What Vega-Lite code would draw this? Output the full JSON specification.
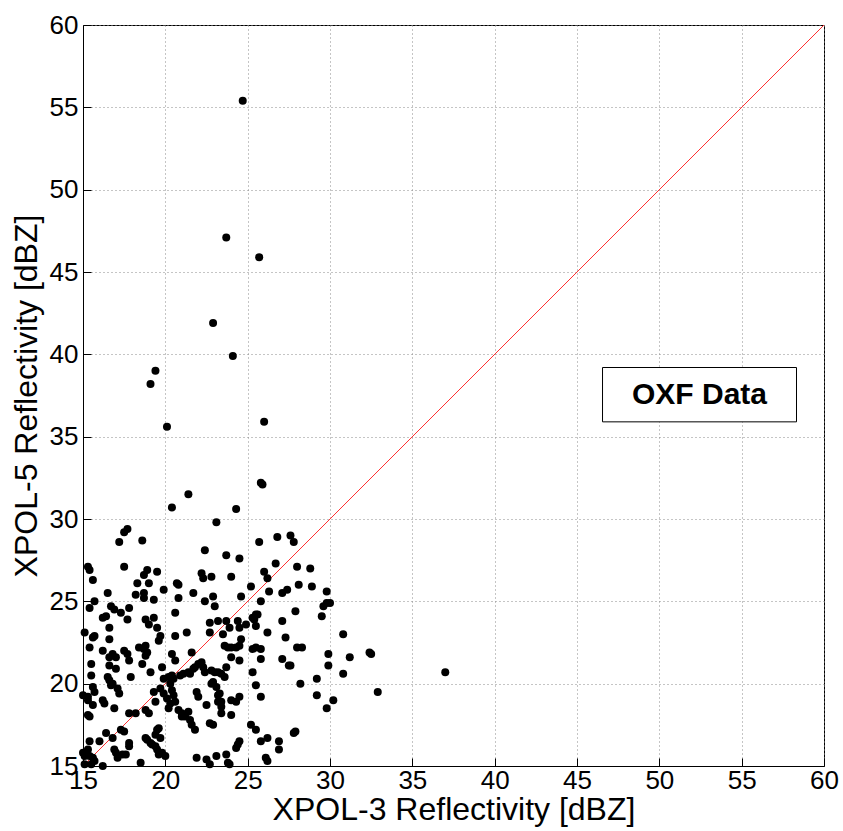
{
  "$schema": "https://vega.github.io/schema/vega-lite/v6.json",
  "width": 741,
  "height": 741,
  "autosize": {"type": "none"},
  "padding": {"left": 83, "top": 25, "right": 19, "bottom": 65},
  "background": "white",
  "config": {
    "view": {"stroke": "black", "strokeWidth": 1},
    "axis": {
      "domainColor": "black",
      "labelFont": "Liberation Sans",
      "labelFontSize": 26,
      "labelColor": "black",
      "labelOverlap": false,
      "labelFlush": false,
      "labelBound": false,
      "titleFont": "Liberation Sans",
      "titleFontSize": 32,
      "titleFontWeight": "normal",
      "titleColor": "black",
      "gridColor": "#8a8a8a",
      "gridDash": [1, 3],
      "gridOpacity": 1,
      "tickColor": "black",
      "tickSize": -8
    }
  },
  "datasets": {
    "pts": [
      {"x":24.7,"y":55.4},{"x":23.7,"y":47.1},{"x":25.7,"y":45.9},{"x":22.9,"y":41.9},{"x":24.1,"y":39.9},
      {"x":19.4,"y":39.0},{"x":19.1,"y":38.2},{"x":20.1,"y":35.6},{"x":26.0,"y":35.9},{"x":25.8,"y":32.2},
      {"x":25.9,"y":32.1},{"x":20.4,"y":30.7},{"x":21.4,"y":31.5},{"x":24.3,"y":30.6},{"x":23.1,"y":29.8},
      {"x":17.7,"y":29.4},{"x":17.5,"y":29.2},{"x":17.2,"y":28.6},{"x":18.6,"y":28.7},{"x":22.4,"y":28.1},
      {"x":23.7,"y":27.8},{"x":24.5,"y":27.6},{"x":25.7,"y":28.6},{"x":26.8,"y":28.9},{"x":27.6,"y":29.0},
      {"x":27.8,"y":28.6},{"x":15.3,"y":27.1},{"x":15.4,"y":26.9},{"x":17.5,"y":27.1},{"x":15.6,"y":26.3},
      {"x":18.9,"y":26.9},{"x":18.7,"y":26.6},{"x":19.5,"y":26.8},{"x":18.3,"y":26.1},{"x":19.0,"y":26.1},
      {"x":16.5,"y":25.5},{"x":18.2,"y":25.4},{"x":18.7,"y":25.5},{"x":18.7,"y":25.2},{"x":19.3,"y":25.1},
      {"x":19.9,"y":25.7},{"x":20.7,"y":26.1},{"x":20.8,"y":26.0},{"x":20.8,"y":25.2},{"x":21.7,"y":25.5},
      {"x":22.2,"y":26.7},{"x":22.3,"y":26.4},{"x":22.8,"y":26.5},{"x":24.0,"y":26.5},{"x":22.4,"y":25.0},
      {"x":22.9,"y":25.3},{"x":23.0,"y":24.7},{"x":24.6,"y":25.3},{"x":25.2,"y":25.9},{"x":15.4,"y":24.6},
      {"x":15.7,"y":25.0},{"x":16.7,"y":24.7},{"x":16.9,"y":24.5},{"x":17.3,"y":24.3},{"x":17.8,"y":24.6},
      {"x":20.6,"y":24.3},{"x":26.7,"y":27.3},{"x":28.0,"y":27.1},{"x":28.8,"y":27.0},{"x":26.0,"y":26.8},
      {"x":26.2,"y":26.4},{"x":26.3,"y":25.6},{"x":27.1,"y":25.5},{"x":27.4,"y":25.7},{"x":28.1,"y":26.0},
      {"x":28.9,"y":25.9},{"x":29.8,"y":25.6},{"x":25.8,"y":25.0},{"x":29.6,"y":24.7},{"x":29.8,"y":24.9},
      {"x":30.0,"y":24.9},{"x":25.6,"y":24.2},{"x":27.9,"y":24.4},{"x":29.5,"y":24.1},{"x":25.3,"y":24.0},
      {"x":30.8,"y":23.0},{"x":28.0,"y":22.2},{"x":28.3,"y":22.2},{"x":27.6,"y":21.1},{"x":29.9,"y":21.8},
      {"x":29.9,"y":21.1},{"x":31.2,"y":21.6},{"x":32.4,"y":21.9},{"x":32.5,"y":21.8},{"x":30.8,"y":20.6},
      {"x":37.0,"y":20.7},{"x":28.2,"y":20.0},{"x":29.2,"y":20.3},{"x":29.2,"y":19.3},{"x":32.9,"y":19.5},
      {"x":30.2,"y":19.0},{"x":29.8,"y":18.5},{"x":27.8,"y":17.0},{"x":27.9,"y":17.1},{"x":27.1,"y":23.8},
      {"x":25.5,"y":23.5},{"x":26.2,"y":23.1},{"x":27.3,"y":22.8},{"x":25.3,"y":22.1},{"x":25.5,"y":22.2},
      {"x":25.8,"y":22.1},{"x":25.8,"y":21.5},{"x":27.1,"y":21.5},{"x":27.5,"y":21.1},{"x":25.3,"y":20.7},
      {"x":25.5,"y":19.9},{"x":25.8,"y":19.2},{"x":25.2,"y":17.5},{"x":25.5,"y":17.2},{"x":26.2,"y":16.7},
      {"x":25.8,"y":16.5},{"x":26.9,"y":16.5},{"x":26.9,"y":16.0},{"x":26.1,"y":15.5},{"x":26.2,"y":15.3},
      {"x":16.2,"y":24.0},{"x":16.4,"y":24.1},{"x":16.6,"y":23.4},{"x":17.7,"y":23.9},{"x":18.8,"y":23.9},
      {"x":19.0,"y":23.6},{"x":19.3,"y":24.0},{"x":19.5,"y":23.4},{"x":21.3,"y":23.1},{"x":20.6,"y":22.9},
      {"x":22.7,"y":23.7},{"x":23.2,"y":23.8},{"x":23.7,"y":23.8},{"x":23.9,"y":23.4},{"x":24.4,"y":23.8},
      {"x":24.5,"y":23.4},{"x":24.9,"y":23.6},{"x":25.5,"y":24.2},{"x":25.4,"y":23.9},{"x":15.1,"y":23.1},
      {"x":22.7,"y":23.1},{"x":23.5,"y":23.0},
      {"x":15.6,"y":22.8},{"x":15.7,"y":22.9},{"x":15.4,"y":22.2},{"x":16.2,"y":22.0},{"x":19.6,"y":22.6},
      {"x":19.7,"y":22.9},{"x":23.6,"y":22.3},{"x":23.8,"y":22.2},{"x":24.0,"y":22.2},{"x":24.3,"y":22.2},
      {"x":24.5,"y":22.3},{"x":24.6,"y":22.7},{"x":18.4,"y":22.2},{"x":18.7,"y":22.1},{"x":18.8,"y":22.3},
      {"x":17.5,"y":22.0},{"x":16.6,"y":22.7},
      {"x":16.6,"y":21.6},{"x":16.8,"y":21.8},{"x":17.0,"y":21.6},{"x":17.7,"y":21.8},{"x":17.8,"y":21.4},
      {"x":18.6,"y":21.2},{"x":18.8,"y":21.7},{"x":18.9,"y":21.9},{"x":20.4,"y":21.8},{"x":20.6,"y":21.4},
      {"x":21.6,"y":21.9},{"x":19.8,"y":21.0},{"x":21.8,"y":21.0},{"x":22.0,"y":21.2},{"x":22.2,"y":21.3},
      {"x":22.3,"y":21.0},{"x":23.7,"y":21.0},{"x":24.0,"y":21.6},{"x":24.5,"y":21.4},{"x":16.6,"y":21.1},
      {"x":15.5,"y":21.2},
      {"x":17.0,"y":20.9},{"x":17.9,"y":20.4},{"x":15.5,"y":20.5},{"x":16.5,"y":20.4},{"x":16.6,"y":20.2},
      {"x":16.7,"y":19.9},{"x":16.8,"y":20.0},{"x":19.1,"y":20.7},{"x":19.9,"y":20.3},{"x":20.2,"y":20.4},
      {"x":20.4,"y":20.5},{"x":20.5,"y":20.3},{"x":20.9,"y":20.5},{"x":21.1,"y":20.6},{"x":21.4,"y":20.7},
      {"x":21.5,"y":20.6},{"x":21.7,"y":20.9},{"x":22.4,"y":20.7},{"x":22.8,"y":20.8},{"x":23.0,"y":20.7},
      {"x":23.2,"y":20.7},{"x":23.4,"y":20.6},{"x":23.6,"y":20.4},{"x":22.8,"y":20.0},{"x":22.9,"y":20.1},
      {"x":20.3,"y":20.0},
      {"x":15.0,"y":19.3},{"x":15.3,"y":19.2},{"x":15.3,"y":19.0},{"x":15.6,"y":19.8},{"x":15.7,"y":19.5},
      {"x":16.2,"y":19.0},{"x":17.1,"y":19.7},{"x":17.2,"y":19.4},{"x":19.3,"y":19.5},{"x":19.7,"y":19.7},
      {"x":19.9,"y":19.4},{"x":20.4,"y":19.6},{"x":20.5,"y":19.3},{"x":21.9,"y":19.5},{"x":22.0,"y":19.2},
      {"x":23.1,"y":19.8},{"x":23.3,"y":19.4},{"x":23.2,"y":19.3},{"x":24.5,"y":19.2},{"x":24.0,"y":19.0},
      {"x":24.3,"y":18.9},{"x":20.1,"y":19.1},
      {"x":15.6,"y":18.7},{"x":16.3,"y":18.8},{"x":16.9,"y":18.5},{"x":19.4,"y":18.9},{"x":17.8,"y":18.2},
      {"x":18.2,"y":18.2},{"x":18.8,"y":18.4},{"x":19.0,"y":18.2},{"x":20.6,"y":18.9},{"x":20.8,"y":18.4},
      {"x":20.2,"y":18.5},{"x":20.3,"y":18.8},{"x":21.0,"y":18.2},{"x":21.4,"y":18.3},{"x":22.5,"y":18.7},
      {"x":23.2,"y":18.9},{"x":23.4,"y":18.9},{"x":23.4,"y":18.6},{"x":23.4,"y":18.2},{"x":24.0,"y":18.1},
      {"x":15.3,"y":18.1},{"x":15.4,"y":18.0},
      {"x":21.0,"y":18.0},{"x":21.2,"y":18.0},{"x":21.5,"y":17.8},{"x":21.6,"y":17.5},{"x":21.8,"y":17.2},
      {"x":22.7,"y":17.6},{"x":22.9,"y":17.5},{"x":17.3,"y":17.2},{"x":17.5,"y":17.1},{"x":19.5,"y":17.2},
      {"x":19.6,"y":17.3},{"x":19.4,"y":16.9},{"x":16.4,"y":17.0},
      {"x":16.0,"y":16.5},{"x":15.4,"y":16.5},{"x":16.8,"y":16.7},{"x":17.8,"y":16.4},{"x":17.8,"y":16.2},
      {"x":18.8,"y":16.7},{"x":18.9,"y":16.6},{"x":19.1,"y":16.4},{"x":19.2,"y":16.3},{"x":19.4,"y":16.2},
      {"x":19.7,"y":16.7},{"x":24.5,"y":16.5},{"x":24.4,"y":16.3},{"x":24.3,"y":16.1},
      {"x":15.3,"y":16.0},{"x":15.2,"y":15.8},{"x":15.4,"y":15.6},{"x":15.6,"y":15.5},{"x":15.7,"y":15.3},
      {"x":15.0,"y":15.8},{"x":15.1,"y":15.6},{"x":16.2,"y":15.0},{"x":16.9,"y":16.0},{"x":17.0,"y":15.8},
      {"x":17.4,"y":15.7},{"x":17.6,"y":15.7},{"x":17.1,"y":15.5},{"x":18.5,"y":15.2},{"x":19.5,"y":16.0},
      {"x":19.6,"y":15.7},{"x":19.8,"y":15.8},{"x":20.0,"y":15.6},{"x":21.9,"y":15.5},{"x":22.5,"y":15.4},
      {"x":22.7,"y":15.1},{"x":23.1,"y":15.6},{"x":23.7,"y":15.7},{"x":23.8,"y":15.2},{"x":23.9,"y":15.1},
      {"x":15.1,"y":15.1},{"x":15.5,"y":15.1}
    ],
    "diag": [{"x": 15, "y": 15}, {"x": 60, "y": 60}],
    "box": [{"x": 46.55, "x2": 58.33, "y": 39.2, "y2": 35.9, "label": "OXF Data", "tx": 52.44, "ty": 37.55}]
  },
  "encoding": {
    "x": {"field": "x", "type": "quantitative", "scale": {"domain": [15, 60], "nice": false, "zero": false}, "title": "XPOL-3 Reflectivity [dBZ]", "axis": {"grid": true, "values": [15, 20, 25, 30, 35, 40, 45, 50, 55, 60], "labelPadding": 9, "titlePadding": 1}},
    "y": {"field": "y", "type": "quantitative", "scale": {"domain": [15, 60], "nice": false, "zero": false}, "title": "XPOL-5 Reflectivity [dBZ]", "axis": {"grid": true, "values": [15, 20, 25, 30, 35, 40, 45, 50, 55, 60], "labelPadding": 13, "titlePadding": 6}}
  },
  "layer": [
    {
      "data": {"name": "diag"},
      "mark": {"type": "line", "color": "#ff3030", "strokeWidth": 1},
      "encoding": {}
    },
    {
      "data": {"name": "pts"},
      "mark": {"type": "circle", "size": 64, "color": "black", "opacity": 1},
      "encoding": {}
    },
    {
      "data": {"name": "box"},
      "mark": {"type": "rect", "fill": "white", "stroke": "black", "strokeWidth": 1},
      "encoding": {"x2": {"field": "x2"}, "y2": {"field": "y2"}}
    },
    {
      "data": {"name": "box"},
      "mark": {"type": "text", "font": "Liberation Sans", "fontSize": 30, "fontWeight": "bold", "color": "black", "align": "center", "baseline": "middle"},
      "encoding": {"x": {"field": "tx", "type": "quantitative"}, "y": {"field": "ty", "type": "quantitative"}, "text": {"field": "label"}}
    }
  ]
}
